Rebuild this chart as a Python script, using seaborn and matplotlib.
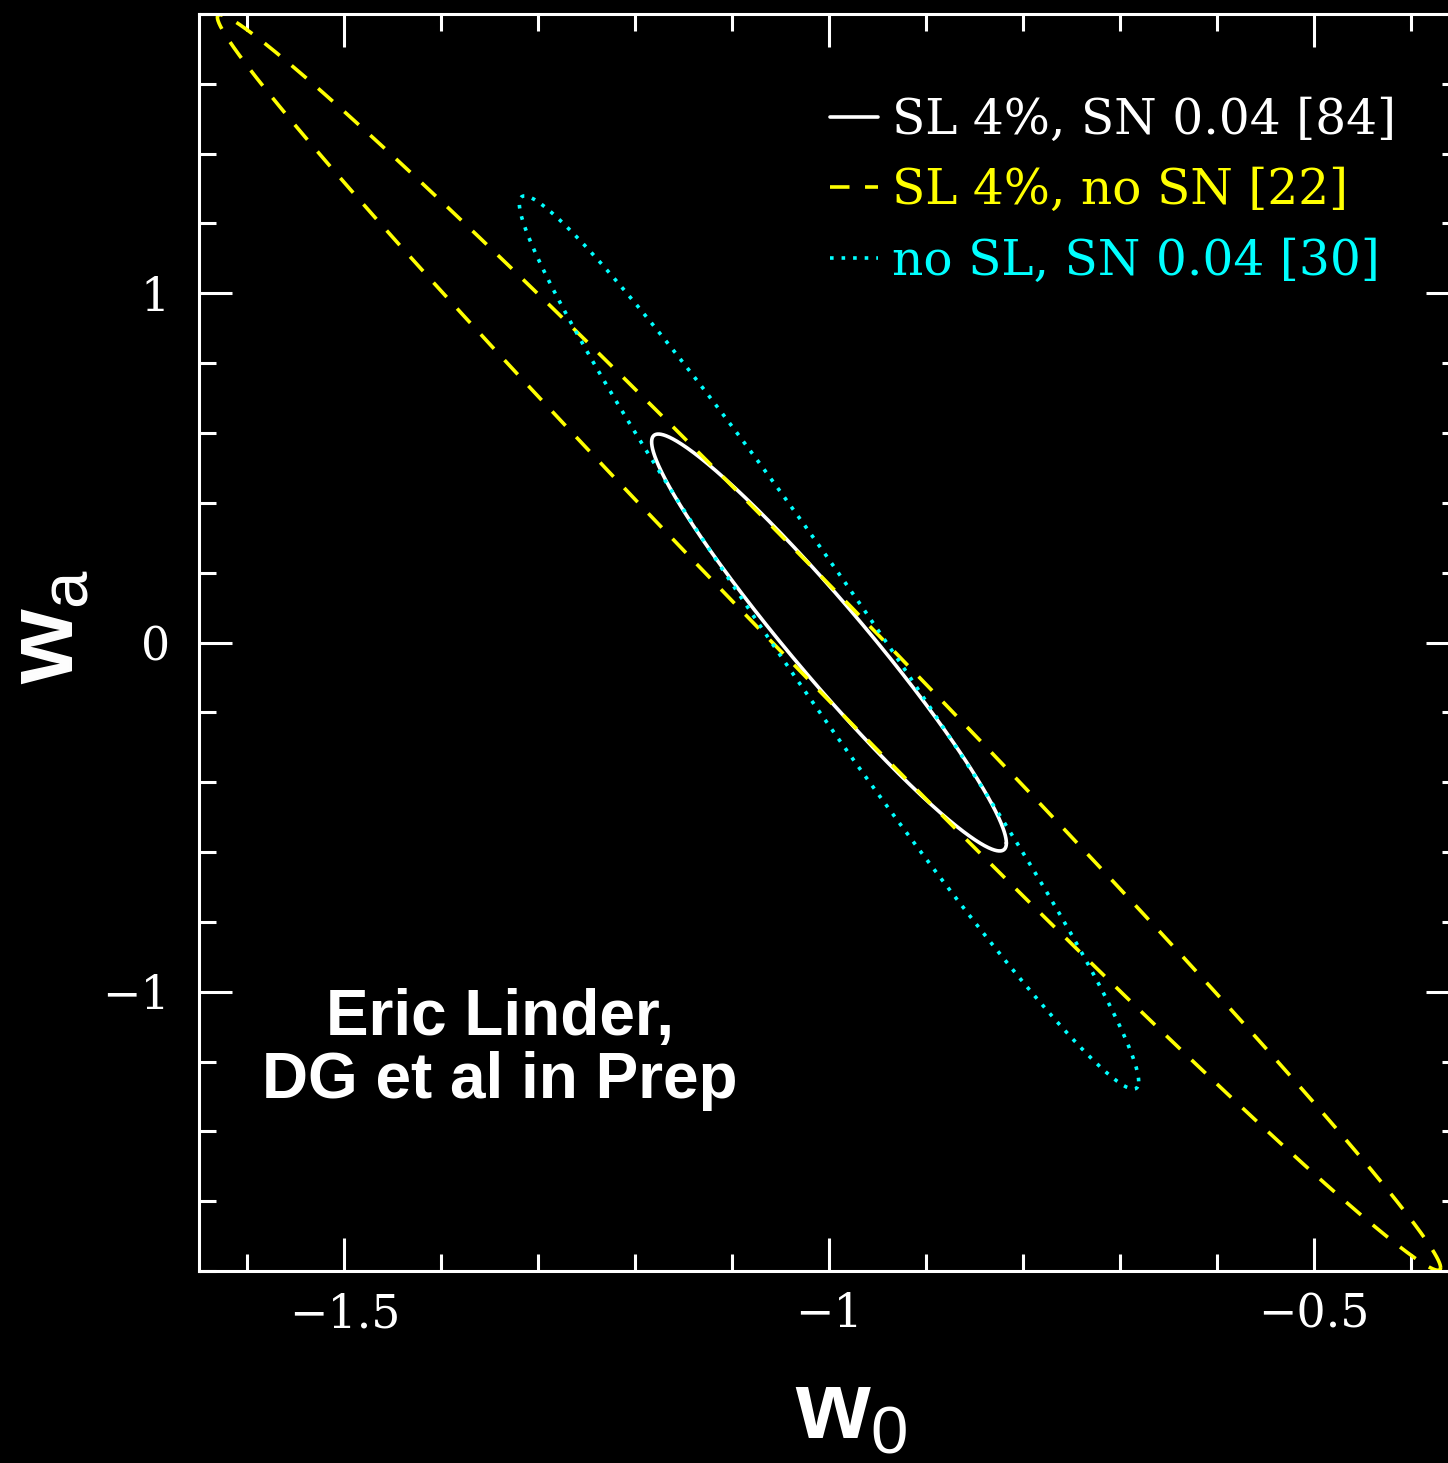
import numpy as np
import pandas as pd
import matplotlib
matplotlib.use("Agg")
import matplotlib.pyplot as plt
import seaborn as sns
from matplotlib.ticker import MultipleLocator, FixedLocator

# ---- data (1-sigma-like contours in w0-wa plane) ----
labels = ["SL 4%, SN 0.04 [84]", "SL 4%, no SN [22]", "no SL, SN 0.04 [30]"]
center_w0 = [-1.0, -1.0, -1.0]
center_wa = [0.0, 0.0, 0.0]
halfwidth_w0 = [0.183, 0.631, 0.3195]     # extent of each contour in w0
halfheight_wa = [0.597, 1.798, 1.279]     # extent of each contour in wa
correlation = [-0.962, -0.9957, -0.9826]  # w0-wa correlation
colors = ["#ffffff", "#ffff00", "#00ffff"]
dash_styles = ["", (5.4, 4.3), (1.0, 2.2)]

xticks_major = [-1.5, -1.0, -0.5]
xtick_labels = ["\u22121.5", "\u22121", "\u22120.5"]
yticks_major = [-1, 0, 1]
ytick_labels = ["\u22121", "0", "1"]

# ---- build contour tables ----
t = np.linspace(0, 2 * np.pi, 1441)
frames = []
for lab, cx, cy, a, b, r in zip(labels, center_w0, center_wa, halfwidth_w0,
                                halfheight_wa, correlation):
    w0 = cx + a * np.cos(t)
    wa = cy + b * (r * np.cos(t) + np.sqrt(1 - r * r) * np.sin(t))
    frames.append(pd.DataFrame({"w0": w0, "wa": wa, "model": lab}))
df = pd.concat(frames, ignore_index=True)

sns.set_theme(style="ticks")
plt.rcParams.update({
    "figure.facecolor": "black",
    "axes.facecolor": "black",
    "axes.edgecolor": "white",
    "axes.linewidth": 2.2,
    "text.color": "white",
    "axes.labelcolor": "white",
    "xtick.color": "white",
    "ytick.color": "white",
    "mathtext.fontset": "custom",
    "mathtext.bf": "Liberation Sans:bold",
    "mathtext.rm": "Liberation Sans",
    "mathtext.it": "Liberation Sans:italic",
})
plt.rcParams["font.family"] = ["DejaVu Serif"]

fig = plt.figure(figsize=(14.48, 14.63), dpi=100)
ax = fig.add_axes([199 / 1448, 1 - 1271 / 1463, 1260 / 1448, 1257 / 1463])

sns.lineplot(data=df, x="w0", y="wa", hue="model", style="model",
             hue_order=labels, style_order=labels,
             palette=dict(zip(labels, colors)),
             dashes=dict(zip(labels, dash_styles)),
             sort=False, estimator=None, units="model", linewidth=2.6,
             legend=False, ax=ax)

ax.set_xlim(-1.65, -0.35)
ax.set_ylim(-1.8, 1.8)

ax.xaxis.set_major_locator(FixedLocator(xticks_major))
ax.set_xticklabels(xtick_labels)
ax.xaxis.set_minor_locator(MultipleLocator(0.1))
ax.yaxis.set_major_locator(FixedLocator(yticks_major))
ax.set_yticklabels(ytick_labels)
ax.yaxis.set_minor_locator(MultipleLocator(0.2))

ax.tick_params(which="both", direction="in", top=True, right=True,
               colors="white", width=2.2, labelsize=33)
ax.tick_params(which="major", length=23.5)
ax.tick_params(which="minor", length=12)
ax.tick_params(axis="x", which="major", pad=15)
ax.tick_params(axis="y", which="major", pad=21)

for sp in ax.spines.values():
    sp.set_color("white")
    sp.set_linewidth(2.2)

ax.set_xlabel(r"$\mathbf{w}_\mathrm{0}$", fontsize=69, color="white")
ax.set_ylabel(r"$\mathbf{w}_\mathrm{a}$", fontsize=69, color="white")
ax.xaxis.set_label_coords(0.5175, -0.075)
ax.yaxis.set_label_coords(-0.084, 0.513)

handles = ax.get_lines()[:3]
leg = ax.legend(handles, labels, loc="upper left",
                bbox_to_anchor=(0.5008, 0.934), frameon=False,
                fontsize=35, labelcolor="linecolor", handlelength=0.99,
                handletextpad=0.29, labelspacing=0.48, borderpad=0,
                borderaxespad=0)

ax.text(0.239, 0.176, "Eric Linder,\nDG et al in Prep", transform=ax.transAxes,
        ha="center", va="center", multialignment="center",
        fontsize=46, fontweight="bold", family=["Liberation Sans"],
        color="white", linespacing=1.07)

fig.savefig("out.png", dpi=100, facecolor="black")
